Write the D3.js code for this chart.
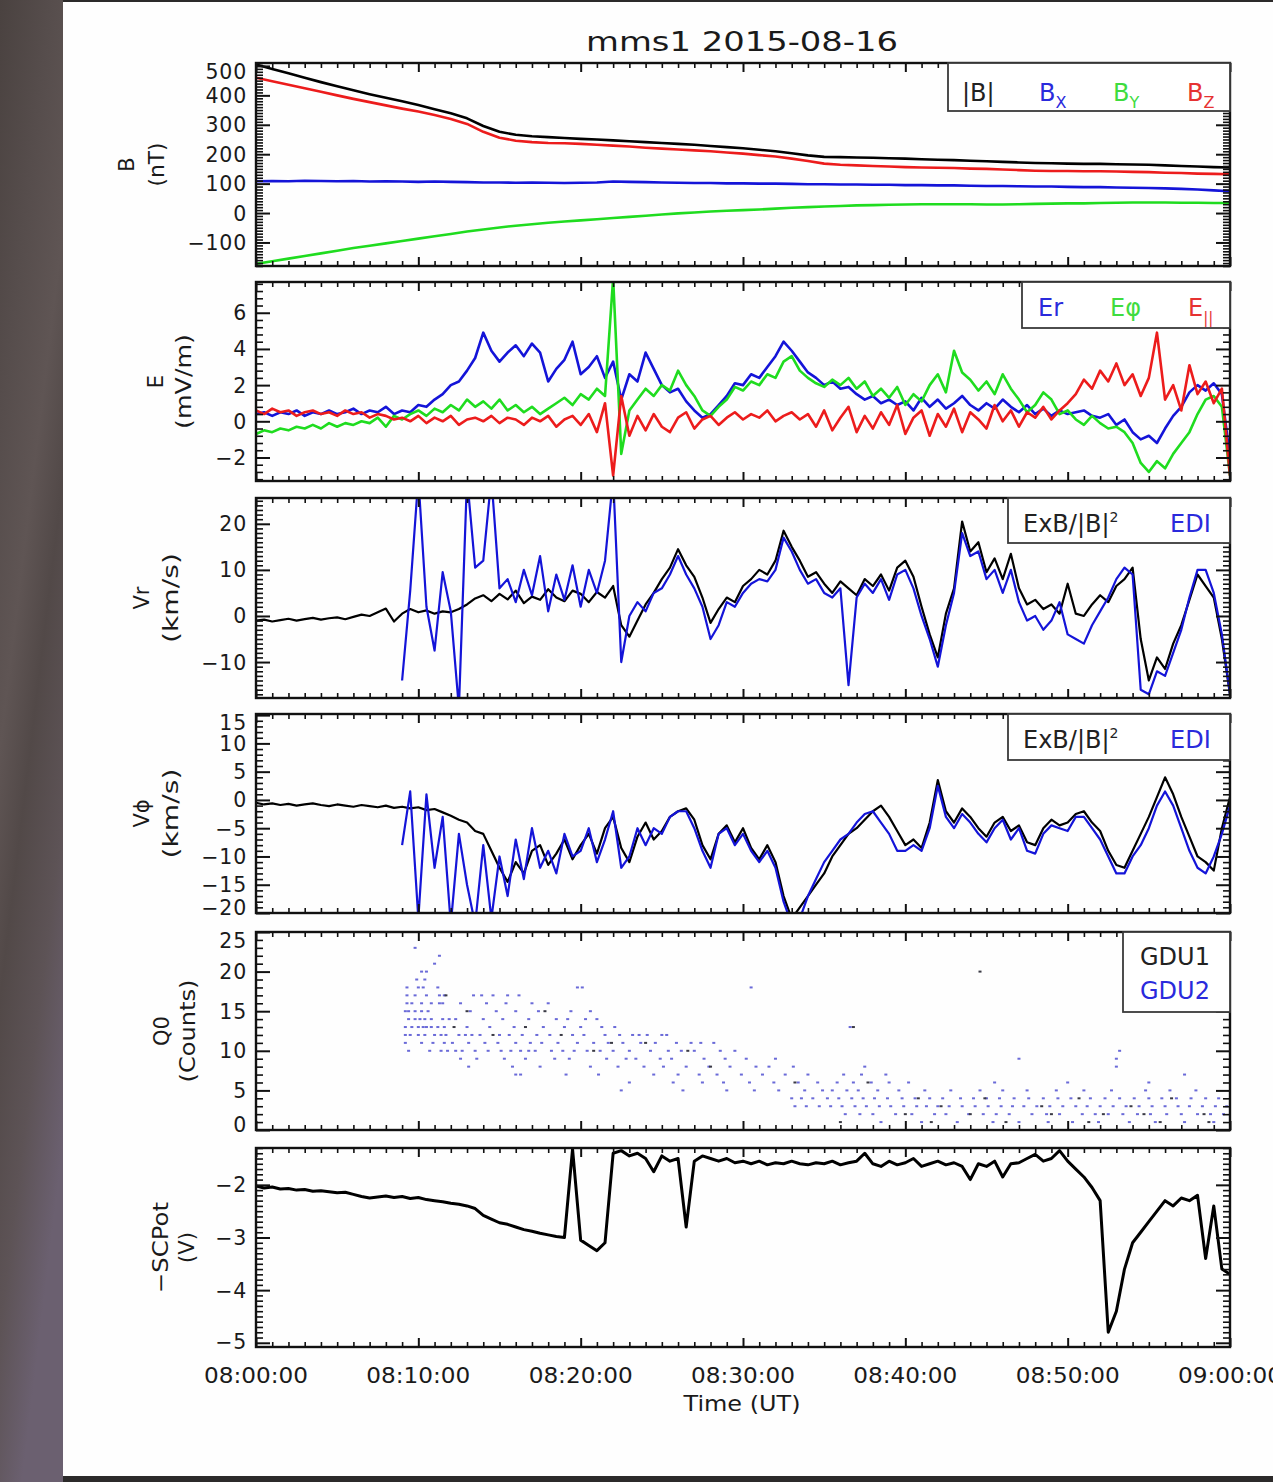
<!DOCTYPE html>
<html><head><meta charset="utf-8">
<script src="https://cdn.jsdelivr.net/npm/d3@7"></script>
<style>html,body{margin:0;padding:0;background:#fff;} svg{display:block;}</style>
</head><body><svg id="c" width="1273" height="1482"></svg>
<script>
// ---------------- DATA ----------------
const chartTitle = "mms1 2015-08-16";
const timeTickMinutes = [0,10,20,30,40,50,60];
const timeTickLabels = ["08:00:00","08:10:00","08:20:00","08:30:00","08:40:00","08:50:00","09:00:00"];
const xTitle = "Time (UT)";

// B field, one value per minute (nT)
const bTot = [505,490,475,460,445,431,417,404,392,380,367,353,339,322,296,276,266,261,258,255,252,250,247,244,241,238,235,232,228,224,220,215,210,203,196,191,190,189,188,186,185,183,181,180,178,176,174,172,170,169,168,167,167,166,165,164,162,160,158,156,155];
const bX = [108,109,108,110,109,108,109,107,108,107,106,107,106,105,104,104,103,104,103,102,103,104,107,106,105,104,103,102,102,101,101,100,100,99,98,98,97,97,96,96,95,95,94,94,93,92,92,91,90,90,89,88,88,87,86,85,84,82,80,77,74];
const bY = [-173,-164,-155,-146,-137,-128,-119,-111,-103,-95,-87,-79,-71,-63,-56,-49,-43,-38,-33,-29,-25,-21,-17,-13,-9,-5,-1,2,5,8,10,12,15,18,20,22,24,26,27,28,29,30,30,30,30,29,29,30,31,32,33,33,34,35,36,36,36,35,35,34,34];
const bZ = [460,448,436,424,412,400,388,377,366,355,345,333,320,303,276,256,246,241,238,237,235,232,229,226,222,219,216,213,210,206,202,197,192,185,177,168,164,162,160,158,156,155,154,153,151,150,148,146,144,143,143,142,142,141,140,139,137,136,134,133,132];

// E field, every half minute (mV/m)
const eR = [0.4,0.5,0.3,0.5,0.4,0.6,0.3,0.5,0.4,0.6,
 0.4,0.5,0.7,0.4,0.6,0.5,0.8,0.4,0.6,0.5,
 0.9,0.8,1.2,1.5,2.0,2.2,2.8,3.5,4.9,3.9,
 3.3,3.8,4.2,3.6,4.3,3.8,2.2,2.9,3.4,4.4,
 2.6,3.0,3.6,2.4,3.3,1.2,2.6,2.2,3.8,2.9,
 2.0,1.6,1.8,1.1,0.6,0.2,0.4,0.9,1.4,2.1,
 2.0,2.6,2.4,3.0,3.6,4.4,3.9,3.3,2.7,2.4,
 2.0,2.2,1.8,1.9,1.5,1.2,1.4,1.0,1.2,0.9,
 1.1,0.6,1.3,0.8,1.2,0.7,1.0,1.4,0.9,0.6,
 1.0,0.7,1.2,0.8,0.5,0.9,0.4,0.7,0.3,0.6,
 0.4,0.5,0.6,0.3,0.2,0.4,-0.2,0.1,-0.6,-1.0,
 -0.8,-1.2,-0.4,0.3,0.8,1.6,2.0,1.7,2.1,1.5,
 -2.0];
const ePhi = [-0.7,-0.5,-0.6,-0.4,-0.5,-0.3,-0.4,-0.2,-0.4,-0.1,
 -0.3,-0.1,-0.2,0.0,-0.1,0.2,-0.3,0.3,0.1,0.4,
 0.6,0.3,0.7,0.5,0.9,0.6,1.2,0.8,1.1,0.7,
 1.2,0.6,0.9,0.5,0.8,0.4,0.7,1.0,1.3,0.9,
 1.5,1.2,1.8,1.4,7.9,-1.8,0.6,1.2,1.8,1.4,
 2.0,1.7,2.8,2.0,1.4,0.6,0.3,0.8,1.2,1.9,
 1.7,2.2,2.0,2.6,2.4,3.3,3.6,2.8,2.4,2.1,
 1.9,2.3,2.0,2.4,1.8,2.2,1.4,1.8,1.3,1.9,
 0.9,1.5,1.1,2.0,2.6,1.6,3.9,2.7,2.3,1.7,
 2.2,1.5,2.6,1.8,1.2,0.5,0.9,1.6,1.2,0.4,
 0.6,0.1,-0.2,0.3,-0.1,-0.4,-0.3,-0.6,-1.2,-2.3,
 -2.8,-2.2,-2.6,-1.8,-1.2,-0.6,0.4,1.2,1.4,0.8,
 -3.0];
const ePar = [0.6,0.4,0.7,0.5,0.6,0.3,0.5,0.6,0.4,0.5,
 0.3,0.6,0.4,0.5,0.2,0.4,0.3,0.1,0.2,0.0,
 0.3,-0.1,0.2,0.0,0.3,-0.2,0.1,0.2,0.0,0.3,
 -0.1,0.2,0.1,-0.2,0.2,0.0,0.3,-0.3,0.1,0.3,
 -0.2,0.4,-0.6,1.0,-3.0,1.4,-0.8,0.3,-0.5,0.4,
 -0.3,-0.6,0.2,0.5,-0.4,0.1,0.3,-0.2,0.2,0.5,
 0.1,0.4,0.2,0.6,0.0,0.3,0.5,0.1,0.4,-0.3,
 0.6,-0.5,0.2,0.8,-0.6,0.3,-0.4,0.5,-0.2,0.9,
 -0.7,0.2,0.6,-0.8,0.4,-0.3,0.7,-0.6,0.5,0.1,
 -0.4,0.9,0.0,0.6,-0.3,0.5,0.2,0.8,0.1,0.6,
 1.0,1.5,2.3,1.8,2.8,2.2,3.2,2.0,2.6,1.4,
 2.4,4.9,1.2,2.0,0.6,3.1,1.5,2.2,1.0,1.8,
 -3.0];

// Vr (km/s), every half minute
const vrExB = [-1.0,-0.8,-1.2,-0.9,-0.6,-1.0,-0.7,-0.4,-0.8,-0.5,
 -0.3,-0.7,-0.2,0.3,0.0,0.8,1.6,-1.2,0.5,1.5,
 0.8,1.2,0.5,1.0,0.8,1.5,2.5,3.8,4.5,3.2,
 4.8,3.6,5.5,2.8,4.2,3.5,5.8,4.0,3.2,5.5,
 4.8,3.0,5.2,4.0,6.5,-2.0,-4.5,-1.0,2.5,5.0,
 8.0,10.5,14.5,11.0,8.5,4.0,-1.5,1.5,4.0,3.0,
 6.5,8.0,10.0,9.0,12.0,18.5,15.0,12.0,8.5,9.5,
 7.0,5.0,7.5,6.0,4.5,8.0,6.5,9.0,5.5,10.5,
 12.0,8.5,2.0,-4.0,-9.0,0.5,6.0,20.5,14.0,16.0,
 9.5,12.5,8.0,13.5,6.0,2.5,3.5,1.5,2.5,0.5,
 7.0,0.5,0.0,2.5,4.5,3.0,6.5,8.0,10.5,-5.0,
 -14.0,-9.0,-11.5,-6.0,-2.0,3.5,9.0,6.5,4.0,-5.0,
 -17.0];
const vrEdi = [null,null,null,null,null,null,null,null,null,null,
 null,null,null,null,null,null,null,null,-14,5.5,
 30,2,-7.5,9.5,1,-20,30,10.5,12,30,
 6,8,3,10,4.5,13,1,9,3.5,11,
 2,10,5,12,30,-10,0,3,1,5,
 6,9,13,9,6,2,-5,-2,3,2,
 5,7,8,7.5,10,17,14,10,7,8,
 5,4,6,-15,4,7,5,8,3.5,9,
 10,6,0,-5,-11,-2,5,18,13,14,
 8,10,5,10,3,-1,0,-3,-1,3,
 -4,-5,-6,-2,1,4,8,10.5,9,-16,
 -17,-12,-13,-8,-3,4,10,10,5,-4,
 -17];

// Vphi (km/s), every half minute
const vpExB = [-0.5,-0.8,-0.6,-0.9,-0.7,-1.0,-0.8,-0.6,-0.9,-1.1,
 -0.8,-1.0,-1.2,-0.9,-1.1,-1.3,-1.0,-1.4,-1.2,-1.5,
 -1.3,-1.8,-1.6,-2.2,-2.8,-3.5,-4.0,-5.5,-6.0,-9.0,
 -12.0,-14.5,-11.0,-13.0,-9.0,-8.0,-11.5,-9.5,-7.0,-10.5,
 -8.0,-6.0,-9.5,-5.0,-3.0,-8.5,-11.0,-6.5,-4.0,-7.0,
 -5.5,-3.0,-2.0,-1.5,-3.5,-8.0,-10.5,-6.0,-4.5,-7.5,
 -5.0,-8.5,-10.5,-8.0,-11.0,-17.0,-21.0,-19.0,-17.0,-15.0,
 -13.0,-10.0,-8.0,-6.0,-5.0,-3.5,-2.0,-1.0,-3.0,-5.5,
 -8.0,-7.0,-8.5,-4.0,3.5,-2.0,-4.0,-1.5,-3.0,-5.0,
 -6.5,-4.0,-3.0,-5.5,-4.5,-7.5,-8.0,-5.0,-3.5,-4.5,
 -4.0,-2.5,-2.0,-4.0,-5.5,-9.0,-11.5,-12.0,-9.0,-6.0,
 -3.0,0.5,4.0,1.0,-3.0,-6.5,-10.0,-11.0,-12.5,-5.0,
 0.5];
const vpEdi = [null,null,null,null,null,null,null,null,null,null,
 null,null,null,null,null,null,null,null,-8,1.5,
 -21,1,-12,-3,-22,-6,-15,-22,-8,-21,
 -10,-17,-7,-14,-5,-12,-9,-13,-6,-10,
 -9,-5,-11,-7,-2,-12,-10,-5,-8,-5,
 -6,-3,-2,-2,-5,-9,-12,-6,-5,-8,
 -6,-9,-11,-9,-12,-18,-22,-21,-17,-14,
 -11,-9,-7,-6,-4,-2.5,-2,-4,-6,-9,
 -9,-8,-9,-5,2.5,-3,-5,-2.5,-4,-6,
 -7.5,-5,-3.5,-7,-5,-9,-9.5,-6,-4.5,-5,
 -5.5,-3,-3,-5,-7,-10,-13,-13,-10,-8,
 -5,-1,1.5,-1,-5,-9,-12,-13,-10,-6,
 -1];

// Q0 counts: [count, [minutes...]]
const q0Gdu1 = [
 [20,[44.6]],[17,[11.7]],[15,[13.0,17.8]],[13,[12.2,16.6,36.8]],[12,[14.6,18.8]],
 [11,[21.9,24.0]],[10,[20.8,26.6]],[8,[28.0]],[6,[33.2,37.7]],
 [4,[40.8,44.9,50.7,56.4]],[3,[42.2,48.4,53.9]],[2,[40.0,44.0,49.0,52.2,54.7,58.4]],
 [1,[36.0,41.6,46.2,51.3,55.7,58.7]]
];
const q0Gdu2 = [
 [23,[9.8]],[22,[11.3]],[21,[11.0]],[20,[10.2,10.5]],[19,[9.9,10.4]],
 [18,[9.3,10.0,10.3,11.2,19.8,20.1,30.5]],
 [17,[9.3,9.8,10.5,11.3,11.6,13.4,13.9,14.6,15.5,16.2]],
 [16,[9.3,9.6,10.2,10.8,11.3,11.5,12.6,14.2,15.4,17.0,18.0]],
 [15,[9.2,9.4,9.8,10.2,10.6,13.2,14.8,16.0,17.4,19.4,20.6]],
 [14,[9.4,9.8,10.1,10.4,10.8,11.5,11.9,12.3,14.0,15.2,16.8,18.5,19.2,20.3,21.0]],
 [13,[9.2,9.6,10.0,10.3,10.5,10.8,11.2,11.6,13.0,14.4,15.9,17.7,19.0,20.0,21.3,22.1,36.6]],
 [12,[9.2,9.5,10.0,10.4,11.0,11.4,11.7,12.5,12.9,13.3,13.8,15.0,15.6,16.4,17.3,18.1,19.5,20.2,21.5,22.4,23.2,23.6,24.1,25.0,25.3]],
 [11,[9.2,10.2,10.9,11.6,12.1,13.1,14.1,14.9,16.0,16.9,17.6,18.6,19.8,20.8,21.7,22.6,23.7,24.6,25.9,26.8,27.4,28.2]],
 [10,[9.4,10.7,11.4,11.8,12.3,12.7,13.5,14.3,15.1,15.7,16.3,16.8,17.2,18.2,18.9,19.6,20.4,21.2,22.0,23.0,24.3,25.4,26.2,27.0,28.6,29.5,53.2]],
 [9,[12.6,13.6,15.3,16.6,18.4,19.3,21.6,22.8,23.4,24.9,25.6,27.6,28.9,30.2,32.0,47.0,53.0]],
 [8,[13.1,15.8,17.5,20.6,22.3,23.9,25.1,26.5,27.9,29.2,30.8,31.6,33.1,37.5,53.0]],
 [7,[16.0,16.3,19.1,21.1,24.5,26.0,27.3,28.4,29.9,31.2,32.6,34.0,36.2,37.3,38.8,57.2]],
 [6,[23.0,25.7,27.5,28.8,30.4,31.9,33.4,34.6,35.8,36.8,37.9,39.0,40.2,45.5,50.0,55.0]],
 [5,[22.5,26.3,29.0,30.7,32.2,33.8,34.9,35.5,36.4,37.1,38.3,39.6,41.2,42.8,44.6,46.0,47.5,49.3,51.0,52.7,54.8,56.3,57.9]],
 [4,[33.0,33.6,34.3,35.2,35.9,36.7,37.4,38.1,38.9,39.8,40.6,41.5,42.3,43.4,44.2,45.0,45.8,46.7,47.6,48.5,49.4,50.2,51.4,52.3,53.2,54.1,55.0,55.8,56.7,57.6,58.5,59.3]],
 [3,[33.2,33.9,34.7,35.4,36.1,36.9,37.6,38.4,39.1,39.9,40.7,41.3,42.0,42.7,43.5,44.3,45.1,45.9,46.6,47.3,48.1,48.9,49.7,50.5,51.2,52.0,52.8,53.6,54.4,55.2,56.0,56.8,57.5,58.3,59.1,59.8]],
 [2,[36.3,37.2,38.0,39.4,40.4,41.8,42.5,43.9,44.8,45.6,46.4,47.8,48.7,49.5,50.9,51.7,52.5,53.4,54.3,55.1,56.1,57.0,58.0,58.8,59.6]],
 [1,[38.5,41.0,43.2,45.4,47.0,48.8,50.3,51.9,53.8,55.4,57.2,59.0]]
];

// -SCPot (V), every half minute
const scPot = [-2.02,-2.06,-2.04,-2.08,-2.07,-2.10,-2.09,-2.12,-2.11,-2.13,
 -2.15,-2.14,-2.18,-2.22,-2.25,-2.23,-2.21,-2.24,-2.22,-2.26,
 -2.24,-2.28,-2.30,-2.32,-2.35,-2.37,-2.40,-2.45,-2.58,-2.65,
 -2.72,-2.75,-2.80,-2.85,-2.88,-2.92,-2.95,-2.98,-3.00,-1.32,
 -3.05,-3.15,-3.25,-3.10,-1.40,-1.35,-1.45,-1.40,-1.50,-1.75,
 -1.45,-1.55,-1.50,-2.80,-1.55,-1.45,-1.50,-1.55,-1.50,-1.58,
 -1.55,-1.60,-1.55,-1.62,-1.58,-1.60,-1.55,-1.60,-1.62,-1.58,
 -1.60,-1.55,-1.62,-1.58,-1.55,-1.40,-1.60,-1.65,-1.55,-1.62,
 -1.58,-1.50,-1.65,-1.60,-1.55,-1.62,-1.58,-1.65,-1.90,-1.60,
 -1.65,-1.55,-1.85,-1.60,-1.58,-1.50,-1.42,-1.55,-1.50,-1.35,
 -1.55,-1.70,-1.85,-2.05,-2.30,-4.80,-4.40,-3.60,-3.10,-2.90,
 -2.70,-2.50,-2.30,-2.40,-2.25,-2.30,-2.20,-3.40,-2.40,-3.60,
 -3.70];

// ---------------- DRAWING ----------------
const FONT = "DejaVu Sans, Verdana, sans-serif";
const svg = d3.select('#c');
const W = 1273, H = 1482;
const C = {blue:'#1414d8', green:'#1fdc1f', red:'#ec1c1c', black:'#000',
           lblue:'#2a2adc', lgreen:'#3fdc3f', lred:'#e63232'};

const defs = svg.append('defs');
const grad = defs.append('linearGradient').attr('id','strip').attr('x1',0).attr('y1',0).attr('x2',0.35).attr('y2',1);
[['0%','#4a4240'],['25%','#564d4c'],['45%','#5f5554'],['60%','#524948'],['80%','#5d5356'],['100%','#6b6070']]
  .forEach(([o,c])=>grad.append('stop').attr('offset',o).attr('stop-color',c));
svg.append('rect').attr('width',W).attr('height',H).attr('fill','#2c2a2a');
svg.append('rect').attr('x',0).attr('y',0).attr('width',63).attr('height',H).attr('fill','url(#strip)');
svg.append('rect').attr('x',63).attr('y',2).attr('width',W-63).attr('height',1474).attr('fill','#fefefe');

const x = d3.scaleLinear().domain([0,60]).range([256,1230]);
const X0 = 256, X1 = 1230;
const tMin = d3.range(0, 61, 1);
const tHalf = d3.range(0, 60.5, 0.5);

const panels = [
 {top:63, bottom:266, domain:[-180,510], majors:[-100,0,100,200,300,400,500], minorStep:10,
  title:['B','(nT)'], tx:[127,157], tlen:[null,44]},
 {top:282, bottom:481, domain:[-3.3,7.7], majors:[-2,0,2,4,6], minorStep:0.4,
  title:['E','(mV/m)'], tx:[156,184], tlen:[null,95]},
 {top:498, bottom:698, domain:[-17.8,25.6], majors:[-10,0,10,20], minorStep:1,
  title:['Vr','(km/s)'], tx:[142,171], tlen:[null,90]},
 {top:714, bottom:913, domain:[-20,15.2], majors:[-20,-15,-10,-5,0,5,10,15], minorStep:1,
  title:['Vϕ','(km/s)'], tx:[142,171], tlen:[null,90]},
 {top:932, bottom:1130, domain:[0,25], majors:[0,5,10,15,20,25], minorStep:1,
  title:['Q0','(Counts)'], tx:[162,188], tlen:[null,103]},
 {top:1148, bottom:1347, domain:[-5.08,-1.3], majors:[-5,-4,-3,-2], minorStep:0.1,
  title:['−SCPot','(V)'], tx:[161,187], tlen:[91,null]},
];

panels.forEach((p,i)=>{
  p.y = d3.scaleLinear().domain(p.domain).range([p.bottom,p.top]);
  p.g = svg.append('g');
  defs.append('clipPath').attr('id','clip'+i).append('rect')
    .attr('x',X0).attr('y',p.top).attr('width',X1-X0).attr('height',p.bottom-p.top);
  p.plot = p.g.append('g').attr('clip-path',`url(#clip${i})`);
});

function drawLine(p, ts, vals, color, w){
  const pts = ts.map((t,i)=>[t, vals[i]]);
  const line = d3.line().defined(d=>d[1]!=null).x(d=>x(d[0])).y(d=>p.y(d[1]));
  p.plot.append('path').attr('d', line(pts)).attr('fill','none')
    .attr('stroke',color).attr('stroke-width',w).attr('stroke-linejoin','round');
}

// Panel 1
drawLine(panels[0], tMin, bY, C.green, 2.6);
drawLine(panels[0], tMin, bX, C.blue, 2.6);
drawLine(panels[0], tMin, bZ, C.red, 2.6);
drawLine(panels[0], tMin, bTot, C.black, 2.6);
// Panel 2
drawLine(panels[1], tHalf, eR, C.blue, 2.6);
drawLine(panels[1], tHalf, ePhi, C.green, 2.6);
drawLine(panels[1], tHalf, ePar, C.red, 2.6);
// Panel 3
drawLine(panels[2], tHalf, vrExB, C.black, 2.2);
drawLine(panels[2], tHalf, vrEdi, C.blue, 2.2);
// Panel 4
drawLine(panels[3], tHalf, vpExB, C.black, 2.2);
drawLine(panels[3], tHalf, vpEdi, C.blue, 2.2);
// Panel 5 scatter
function flatten(rows){ return rows.flatMap(([c,ts])=>ts.map(t=>({t,c}))); }
panels[4].plot.selectAll('rect.g2').data(flatten(q0Gdu2)).join('rect').attr('class','g2')
  .attr('x',d=>x(d.t)-1.5).attr('y',d=>panels[4].y(d.c)-1).attr('width',3).attr('height',2)
  .attr('fill','#6a6ad8');
panels[4].plot.selectAll('rect.g1').data(flatten(q0Gdu1)).join('rect').attr('class','g1')
  .attr('x',d=>x(d.t)-1.5).attr('y',d=>panels[4].y(d.c)-1).attr('width',3).attr('height',2)
  .attr('fill','#3a3a44');
// Panel 6
drawLine(panels[5], tHalf, scPot, C.black, 3);

// Axes
const majorX = timeTickMinutes;
const minorX = d3.range(0,61,1).filter(t=>t%10!==0);
panels.forEach((p)=>{
  const g = p.g;
  const minorY = d3.range(Math.ceil(p.domain[0]/p.minorStep)*p.minorStep, p.domain[1]+1e-9, p.minorStep)
    .map(v=>+v.toFixed(4)).filter(v=>!p.majors.some(m=>Math.abs(m-v)<1e-6));
  const styleAx = sel => { sel.select('.domain').remove(); sel.selectAll('line').attr('stroke','#111'); };
  g.append('g').attr('transform',`translate(0,${p.bottom})`).call(d3.axisBottom(x).tickValues(majorX).tickSize(-9).tickFormat('')).call(styleAx).selectAll('line').attr('stroke-width',2);
  g.append('g').attr('transform',`translate(0,${p.bottom})`).call(d3.axisBottom(x).tickValues(minorX).tickSize(-5).tickFormat('')).call(styleAx).selectAll('line').attr('stroke-width',1.6);
  g.append('g').attr('transform',`translate(0,${p.top})`).call(d3.axisTop(x).tickValues(majorX).tickSize(-9).tickFormat('')).call(styleAx).selectAll('line').attr('stroke-width',2);
  g.append('g').attr('transform',`translate(0,${p.top})`).call(d3.axisTop(x).tickValues(minorX).tickSize(-5).tickFormat('')).call(styleAx).selectAll('line').attr('stroke-width',1.6);
  const fmt = d3.format('d');
  const la = g.append('g').attr('transform',`translate(${X0},0)`)
    .call(d3.axisLeft(p.y).tickValues(p.majors).tickSize(-14).tickPadding(9).tickFormat(fmt)).call(styleAx);
  la.selectAll('line').attr('stroke-width',2);
  la.selectAll('text').attr('font-family',FONT).attr('font-size',20.5).attr('fill','#1a1a1a')
    .attr('letter-spacing',0.8).attr('dy',null).attr('dominant-baseline','central')
    .attr('y', d=>{ const yy=p.y(d); const c=Math.min(Math.max(yy,p.top+8),p.bottom-6); return c-yy; });
  g.append('g').attr('transform',`translate(${X0},0)`)
    .call(d3.axisLeft(p.y).tickValues(minorY).tickSize(-7).tickFormat('')).call(styleAx).selectAll('line').attr('stroke-width',1.6);
  g.append('g').attr('transform',`translate(${X1},0)`)
    .call(d3.axisRight(p.y).tickValues(p.majors).tickSize(-14).tickFormat('')).call(styleAx).selectAll('line').attr('stroke-width',2);
  g.append('g').attr('transform',`translate(${X1},0)`)
    .call(d3.axisRight(p.y).tickValues(minorY).tickSize(-7).tickFormat('')).call(styleAx).selectAll('line').attr('stroke-width',1.6);
  g.append('rect').attr('x',X0).attr('y',p.top).attr('width',X1-X0).attr('height',p.bottom-p.top)
    .attr('fill','none').attr('stroke','#111').attr('stroke-width',2.4);
  p.title.forEach((t,k)=>{
    const tt = g.append('text').attr('transform',`translate(${p.tx[k]},${(p.top+p.bottom)/2}) rotate(-90)`)
      .attr('text-anchor','middle').attr('dominant-baseline','central')
      .attr('font-family',FONT).attr('font-size',21).attr('fill','#1a1a1a').text(t);
    if(p.tlen[k]) tt.attr('textLength',p.tlen[k]).attr('lengthAdjust','spacingAndGlyphs');
  });
});

// Legends
function legendBox(x0,y0,x1,y1){
  svg.append('rect').attr('x',x0).attr('y',y0).attr('width',x1-x0).attr('height',y1-y0)
    .attr('fill','#fff').attr('stroke','#3a3a3a').attr('stroke-width',1.8);
}
function ltext(xp,yp,txt,color,sub,subDy,subSize){
  const t = svg.append('text').attr('x',xp).attr('y',yp).attr('font-family',FONT)
    .attr('font-size',24).attr('fill',color).text(txt);
  if(sub) t.append('tspan').attr('dy',subDy).attr('font-size',subSize||16).text(sub);
  return t;
}
legendBox(948,63,1230,111);
ltext(962,101,'|B|','#222');
ltext(1039,101,'B',C.lblue,'X',7,16);
ltext(1113,101,'B',C.lgreen,'Y',7,16);
ltext(1187,101,'B',C.lred,'Z',7,16);

legendBox(1022,282,1230,328);
ltext(1038,316,'Er',C.lblue);
ltext(1110,316,'Eφ',C.lgreen);
ltext(1188,316,'E',C.lred,'||',7,15);

[[498,543],[714,760]].forEach(([a,b])=>{
  legendBox(1008,a,1230,b);
  ltext(1023,a+34,'ExB/|B|','#222','2',-10,14);
  ltext(1170,a+34,'EDI',C.lblue);
});

legendBox(1123,932,1230,1012);
ltext(1140,965,'GDU1','#222');
ltext(1140,999,'GDU2',C.lblue);

// Title and time axis labels
svg.append('text').attr('x',742).attr('y',51).attr('text-anchor','middle')
  .attr('font-family',FONT).attr('font-size',27).attr('fill','#1a1a1a')
  .attr('textLength',312).attr('lengthAdjust','spacingAndGlyphs').text(chartTitle);
svg.selectAll('text.tl').data(timeTickMinutes).join('text').attr('class','tl')
  .attr('x',d=>x(d)).attr('y',1383).attr('text-anchor','middle')
  .attr('font-family',FONT).attr('font-size',22).attr('fill','#1a1a1a')
  .attr('textLength',104).attr('lengthAdjust','spacingAndGlyphs')
  .text((d,i)=>timeTickLabels[i]);
svg.append('text').attr('x',742).attr('y',1411).attr('text-anchor','middle')
  .attr('font-family',FONT).attr('font-size',22).attr('fill','#1a1a1a')
  .attr('textLength',117).attr('lengthAdjust','spacingAndGlyphs').text(xTitle);
</script>
</body></html>
